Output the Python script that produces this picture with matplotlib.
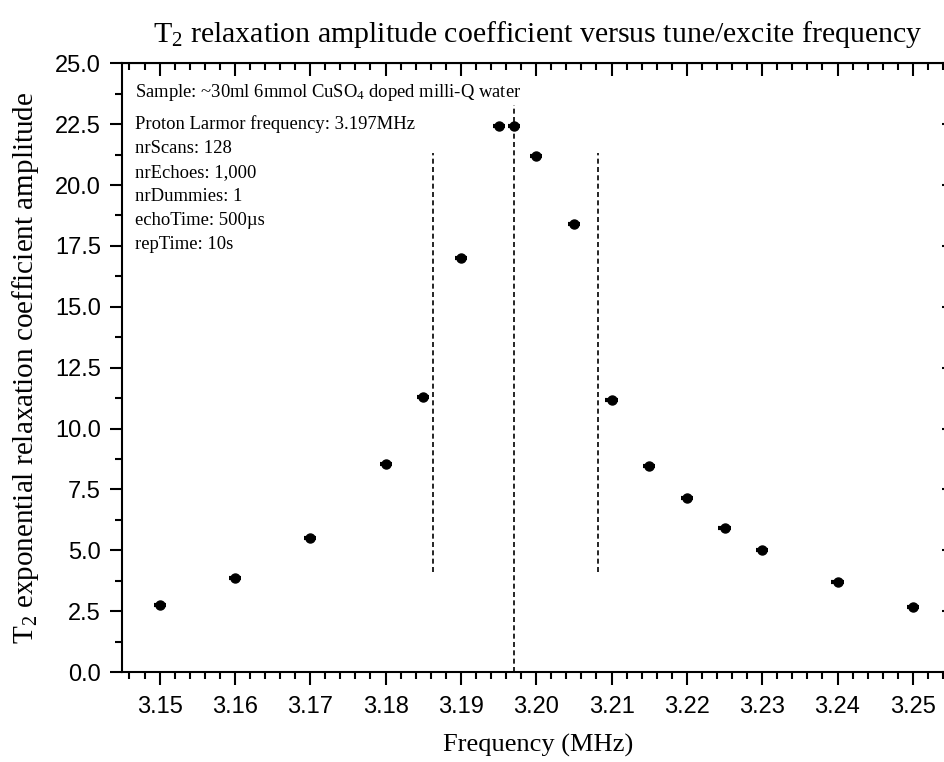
import matplotlib.pyplot as plt
from matplotlib.ticker import MultipleLocator, FormatStrFormatter

# tune/excite frequency (MHz) and fitted T2 amplitude
freq = [3.15, 3.16, 3.17, 3.18, 3.185, 3.19, 3.195, 3.197, 3.20, 3.205,
        3.21, 3.215, 3.22, 3.225, 3.23, 3.24, 3.25]
amp = [2.75, 3.86, 5.50, 8.54, 11.30, 17.00, 22.42, 22.42, 21.20, 18.40,
       11.18, 8.46, 7.14, 5.91, 5.01, 3.68, 2.67]
freq_err = 0.0008

# marker lines: larmor frequency and the two half-width lines
larmor = 3.197
half_lines = [3.1863, 3.2082]

info = ['Sample: ~30ml 6mmol CuSO$_4$ doped milli-Q water',
        'Proton Larmor frequency: 3.197MHz',
        'nrScans: 128',
        'nrEchoes: 1,000',
        'nrDummies: 1',
        'echoTime: 500\u00b5s',
        'repTime: 10s']

serif = 'Liberation Serif'
sans = 'Liberation Sans'
plt.rcParams['mathtext.fontset'] = 'custom'
plt.rcParams['mathtext.rm'] = serif
plt.rcParams['mathtext.it'] = serif + ':italic'
plt.rcParams['mathtext.bf'] = serif + ':bold'

fig = plt.figure(figsize=(9.45, 7.62), dpi=100)
ax = fig.add_axes([0.129, 0.118, 0.88, 0.799])

ax.errorbar(freq, amp, xerr=freq_err, fmt='o', color='black', ms=6.5,
            elinewidth=3, capsize=0, zorder=3)

ax.axvline(larmor, ymin=0, ymax=23.3 / 25, color='black', ls=(0, (3, 2)), lw=1.2)
for x in half_lines:
    ax.axvline(x, ymin=4.1 / 25, ymax=21.3 / 25, color='black', ls=(0, (3, 2)), lw=1.2)

ax.set_xlim(3.145, 3.2554)
ax.set_ylim(0, 25)
ax.xaxis.set_major_locator(MultipleLocator(0.01))
ax.xaxis.set_minor_locator(MultipleLocator(0.002))
ax.xaxis.set_major_formatter(FormatStrFormatter('%.2f'))
ax.yaxis.set_major_locator(MultipleLocator(2.5))
ax.yaxis.set_minor_locator(MultipleLocator(1.25))
ax.yaxis.set_major_formatter(FormatStrFormatter('%.1f'))

ax.tick_params(which='both', direction='out', top=False, right=False, width=1.5)
ax.tick_params(which='major', length=9, pad=6)
ax.tick_params(axis='x', which='major', pad=8)
ax.tick_params(which='minor', length=5)
ax.tick_params(labelsize=17)
for lab in ax.get_xticklabels() + ax.get_yticklabels():
    lab.set_fontfamily(sans)

ax2 = ax.secondary_xaxis('top')
ax2.xaxis.set_major_locator(MultipleLocator(0.01))
ax2.xaxis.set_minor_locator(MultipleLocator(0.002))
ax2.tick_params(which='both', direction='in', labeltop=False, width=1.5)
ax2.tick_params(which='major', length=9)
ax2.tick_params(which='minor', length=5)
ay2 = ax.secondary_yaxis('right')
ay2.yaxis.set_major_locator(MultipleLocator(2.5))
ay2.yaxis.set_minor_locator(MultipleLocator(1.25))
ay2.tick_params(which='both', direction='in', labelright=False, width=1.5)
ay2.tick_params(which='major', length=9)
ay2.tick_params(which='minor', length=5)

for s in ax.spines.values():
    s.set_linewidth(1.5)

ax.set_xlabel('Frequency (MHz)', fontfamily=serif, fontsize=19, labelpad=12)
ax.set_ylabel('T$_2$ exponential relaxation coefficient amplitude', fontfamily=serif,
              fontsize=21, labelpad=10)
ax.set_title('T$_2$ relaxation amplitude coefficient versus tune/excite frequency',
             fontfamily=serif, fontsize=21.5, pad=15)

for i, line in enumerate(info):
    y = 0.952 if i == 0 else 0.900 - (i - 1) * 0.0394
    ax.text(0.016, y, line, transform=ax.transAxes, fontfamily=serif,
            fontsize=13.4, va='center')

fig.savefig('out.png', dpi=100)
